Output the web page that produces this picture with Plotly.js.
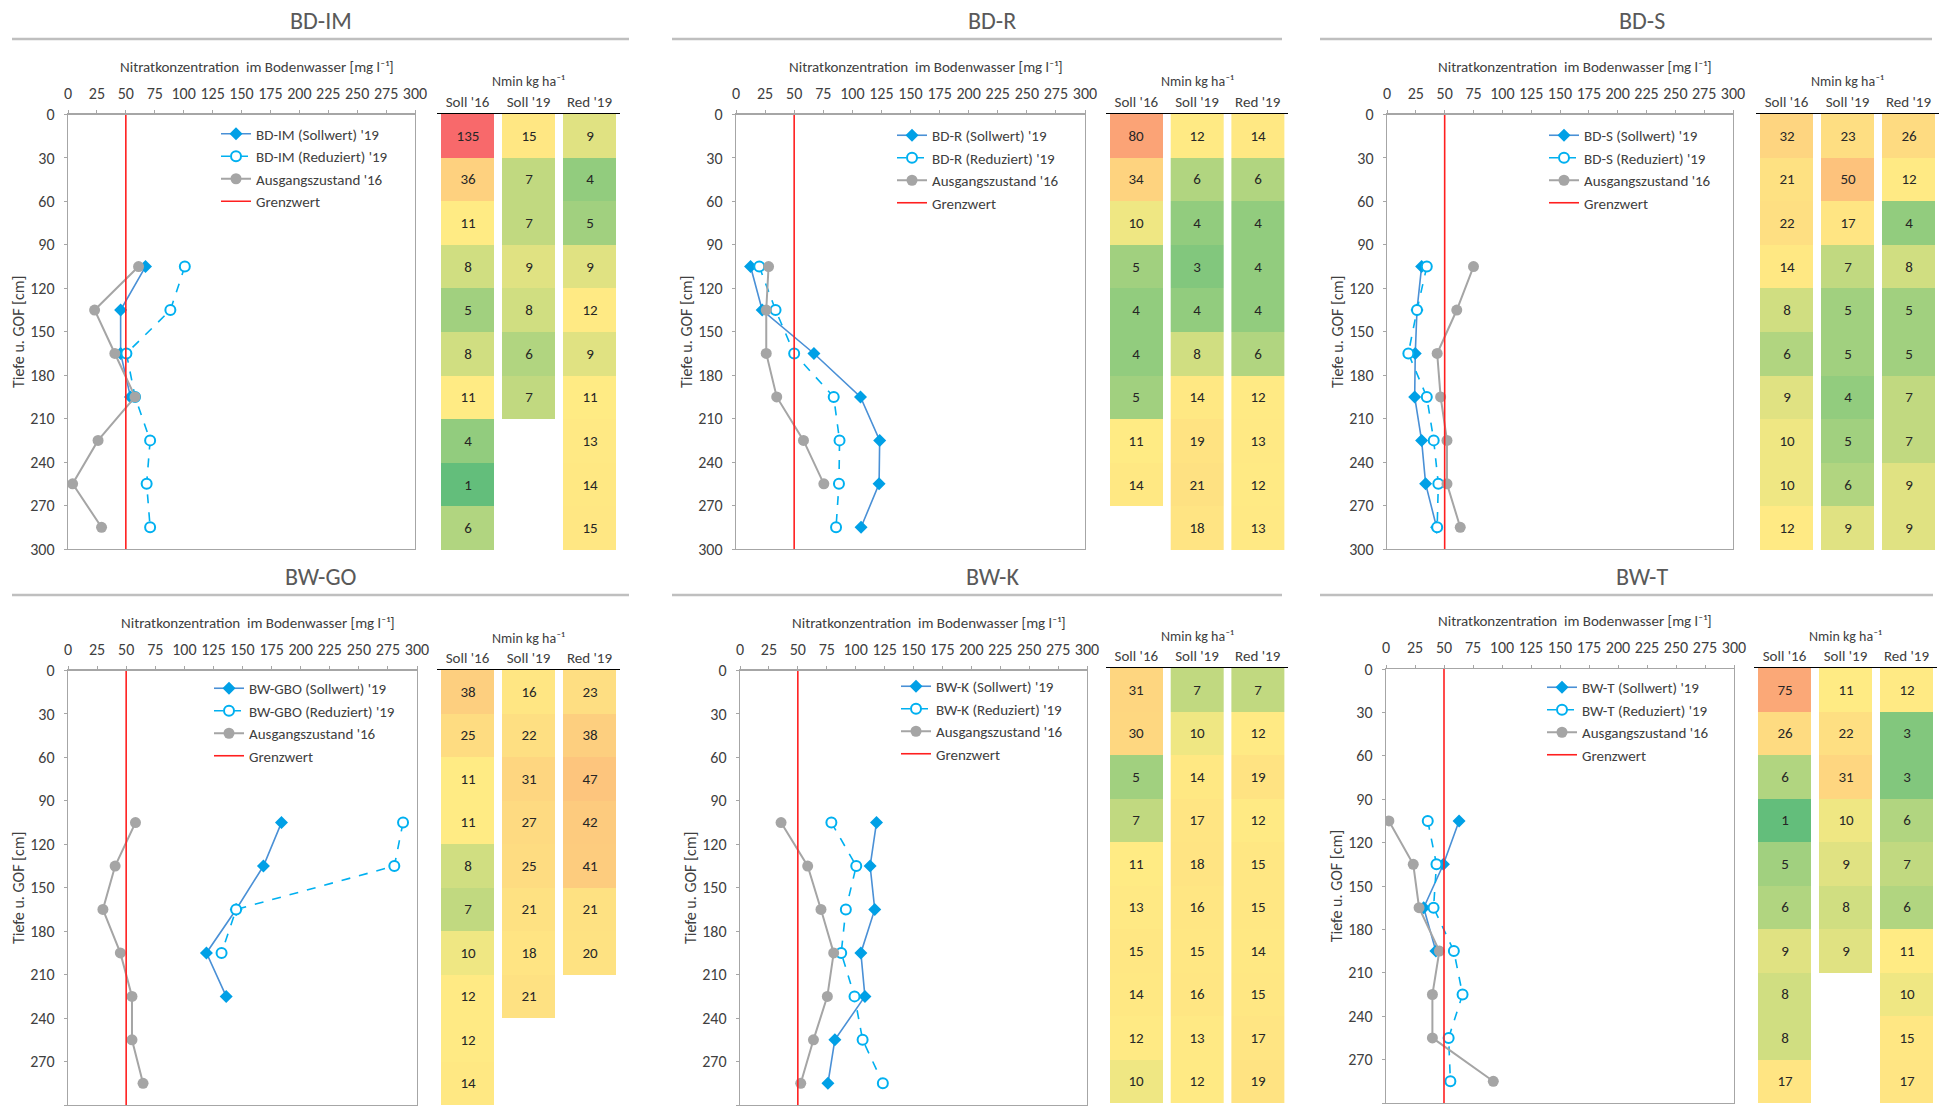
<!DOCTYPE html>
<html><head><meta charset="utf-8">
<script src="https://cdn.plot.ly/plotly-3.0.1.min.js"></script>
<style>html,body{margin:0;padding:0;background:#fff}#chart{width:1952px;height:1112px}</style>
</head><body><div id="chart"></div>
<script>
// ---------- DATA ----------
const depth = [105, 135, 165, 195, 225, 255, 285];          // cm, nitrate sampling depths
const layerMid = [15, 45, 75, 105, 135, 165, 195, 225, 255, 285]; // Nmin layer centres (0-30 ... 270-300)
const nminCols = ["Soll '16", "Soll '19", "Red '19"];
const limitX = [50, 50];
const limitY = [0, 300];

const panelTitles = ['BD-IM', 'BD-R', 'BD-S', 'BW-GO', 'BW-K', 'BW-T'];
const seriesPrefix = ['BD-IM', 'BD-R', 'BD-S', 'BW-GBO', 'BW-K', 'BW-T'];
const nitrateTitle = 'Nitratkonzentration  im Bodenwasser [mg l\u207B\u00B9]';
const nminTitle = 'Nmin kg ha\u207B\u00B9';
const depthTitle = 'Tiefe u. GOF [cm]';

// Nitrate concentration [mg/l]
const bdimSoll = [67, 45.5, 45.5, 54];
const bdimRed  = [101, 88.5, 50.5, 58, 71, 68, 71];
const bdimAus  = [61, 23, 40.5, 58, 26, 4, 29];

const bdrSoll = [12.5, 22.5, 67, 107, 123.5, 123, 107.5];
const bdrRed  = [20, 34, 50, 84, 89, 88.5, 86];
const bdrAus  = [28, 26, 26, 35, 58, 75.5];

const bdsSoll = [30, 26, 24.5, 24, 30, 33.5, 43];
const bdsRed  = [34.5, 26, 18.5, 34.5, 40.5, 44.5, 43.5];
const bdsAus  = [75, 60.5, 43.5, 46.5, 52, 52, 63.5];

const bwgoSoll = [183.5, 168, 144.5, 119, 136];
const bwgoRed  = [288, 280.5, 144.5, 132];
const bwgoAus  = [58, 40.5, 30, 45, 55, 55, 64.5];

const bwkSoll = [118, 112.5, 116.5, 104.5, 108, 82, 76];
const bwkRed  = [79, 100.5, 91.5, 87.5, 99, 106, 123.5];
const bwkAus  = [35.5, 58.5, 70, 81, 75.5, 63.5, 52.5];

const bwtSoll = [63, 49.5, 32.5, 43];
const bwtRed  = [36, 43.5, 41, 58.5, 66, 54, 55.5];
const bwtAus  = [2.5, 23.5, 28.5, 46, 40, 40, 92.5];

// Nmin kg/ha per 30 cm layer
const bdimN16 = [135, 36, 11, 8, 5, 8, 11, 4, 1, 6];
const bdimN19 = [15, 7, 7, 9, 8, 6, 7];
const bdimR19 = [9, 4, 5, 9, 12, 9, 11, 13, 14, 15];

const bdrN16 = [80, 34, 10, 5, 4, 4, 5, 11, 14];
const bdrN19 = [12, 6, 4, 3, 4, 8, 14, 19, 21, 18];
const bdrR19 = [14, 6, 4, 4, 4, 6, 12, 13, 12, 13];

const bdsN16 = [32, 21, 22, 14, 8, 6, 9, 10, 10, 12];
const bdsN19 = [23, 50, 17, 7, 5, 5, 4, 5, 6, 9];
const bdsR19 = [26, 12, 4, 8, 5, 5, 7, 7, 9, 9];

const bwgoN16 = [38, 25, 11, 11, 8, 7, 10, 12, 12, 14];
const bwgoN19 = [16, 22, 31, 27, 25, 21, 18, 21];
const bwgoR19 = [23, 38, 47, 42, 41, 21, 20];

const bwkN16 = [31, 30, 5, 7, 11, 13, 15, 14, 12, 10];
const bwkN19 = [7, 10, 14, 17, 18, 16, 15, 16, 13, 12];
const bwkR19 = [7, 12, 19, 12, 15, 15, 14, 15, 17, 19];

const bwtN16 = [75, 26, 6, 1, 5, 6, 9, 8, 8, 17];
const bwtN19 = [11, 22, 31, 10, 9, 8, 9];
const bwtR19 = [12, 3, 3, 6, 7, 6, 11, 10, 15, 17];

const nitrate = [
  [bdimSoll, bdimRed, bdimAus], [bdrSoll, bdrRed, bdrAus], [bdsSoll, bdsRed, bdsAus],
  [bwgoSoll, bwgoRed, bwgoAus], [bwkSoll, bwkRed, bwkAus], [bwtSoll, bwtRed, bwtAus]
];
const nmin = [
  [bdimN16, bdimN19, bdimR19], [bdrN16, bdrN19, bdrR19], [bdsN16, bdsN19, bdsR19],
  [bwgoN16, bwgoN19, bwgoR19], [bwkN16, bwkN19, bwkR19], [bwtN16, bwtN19, bwtR19]
];

// ---------- LAYOUT GEOMETRY (px) ----------
const W = 1952, H = 1112;
const geo = [
  {plot:[68,415,114.5,549],  table:[437,620,114,550],   title:[321,20],  rule:[12,629,39],    legend:[224,134.5]},
  {plot:[736,1085,114.5,549],table:[1106,1288,114,550], title:[992,20],  rule:[672,1282,39],  legend:[900,136]},
  {plot:[1387,1733,114.5,549],table:[1756,1939,114,550],title:[1642,20], rule:[1320,1932,39], legend:[1552,136]},
  {plot:[68,417,670.5,1105], table:[437,620,670,1105],  title:[321,576], rule:[12,629,595],   legend:[217,689]},
  {plot:[740,1087,670.5,1105],table:[1106,1288,668,1103],title:[992,576],rule:[672,1282,595],  legend:[904,687]},
  {plot:[1386,1734,669,1103],table:[1754,1937,668,1103],title:[1642,576],rule:[1320,1933,595], legend:[1550,688]}
];
const dX = (a, b) => [a / W, b / W];
const dY = (a, b) => [1 - b / H, 1 - a / H];

const FONT = 'Carlito, Calibri, Lato, "DejaVu Sans", sans-serif';
const TXT = '#404040';
const AX = '#A6A6A6';

const traces = [];
const layout = {
  width: W, height: H,
  margin: {l: 0, r: 0, t: 0, b: 0},
  paper_bgcolor: '#fff', plot_bgcolor: 'rgba(0,0,0,0)',
  font: {family: FONT, color: TXT, size: 14},
  showlegend: true,
  annotations: [], shapes: []
};

const colorscale = [[0, '#63BE7B'], [10 / 134, '#FFEB84'], [1, '#F8696B']];

for (let p = 0; p < 6; p++) {
  const g = geo[p];
  const ia = 2 * p + 1, ib = 2 * p + 2;
  const xa = 'x' + ia, ya = 'y' + ia, xb = 'x' + ib, yb = 'y' + ib;
  const lg = p === 0 ? 'legend' : 'legend' + (p + 1);
  const [soll, red, aus] = nitrate[p];

  traces.push({
    type: 'scatter', mode: 'lines+markers', xaxis: xa, yaxis: ya, legend: lg,
    name: seriesPrefix[p] + " (Sollwert) '19",
    x: soll, y: depth.slice(0, soll.length),
    line: {color: '#4A90D6', width: 1.6},
    marker: {symbol: 'diamond', size: 10, color: '#00A0E6'}
  });
  traces.push({
    type: 'scatter', mode: 'lines+markers', xaxis: xa, yaxis: ya, legend: lg,
    name: seriesPrefix[p] + " (Reduziert) '19",
    x: red, y: depth.slice(0, red.length),
    line: {color: '#00B0F0', width: 1.6, dash: 'dash'},
    marker: {symbol: 'circle', size: 10, color: '#fff', line: {color: '#00B0F0', width: 2}}
  });
  traces.push({
    type: 'scatter', mode: 'lines+markers', xaxis: xa, yaxis: ya, legend: lg,
    name: "Ausgangszustand '16",
    x: aus, y: depth.slice(0, aus.length),
    line: {color: '#A5A5A5', width: 2},
    marker: {symbol: 'circle', size: 11, color: '#A5A5A5'}
  });
  traces.push({
    type: 'scatter', mode: 'lines', xaxis: xa, yaxis: ya, legend: lg,
    name: 'Grenzwert', x: limitX, y: limitY,
    line: {color: '#FF1F1F', width: 1.6}
  });

  // Nmin table: one single-column heatmap per table column
  nmin[p].forEach((vals, c) => {
    traces.push({
      type: 'heatmap', xaxis: xb, yaxis: yb, showlegend: false, showscale: false,
      x0: c, dx: 1, y: layerMid.slice(0, vals.length), z: vals.map(v => [v]),
      texttemplate: '%{z}', textfont: {family: FONT, size: 15, color: '#262626'},
      zmin: 1, zmax: 135, colorscale: colorscale, xgap: 8, ygap: 0, hoverinfo: 'skip'
    });
  });

  layout['xaxis' + ia] = {
    domain: dX(g.plot[0], g.plot[1]), anchor: ya, side: 'top',
    range: [0, 300], tick0: 0, dtick: 25, showgrid: false, zeroline: false,
    showline: true, mirror: true, linecolor: AX, linewidth: 1.3,
    ticks: 'outside', ticklen: 3, tickcolor: AX, tickfont: {size: 16, color: TXT},
    ticklabelstandoff: 5
  };
  layout['yaxis' + ia] = {
    domain: dY(g.plot[2], g.plot[3]), anchor: xa,
    range: [300, 0], tick0: 0, dtick: 30, showgrid: false, zeroline: false,
    showline: true, mirror: true, linecolor: AX, linewidth: 1.3,
    ticks: 'outside', ticklen: 3, tickcolor: AX, tickfont: {size: 16, color: TXT},
    ticklabelstandoff: 6,
    title: {text: depthTitle, font: {size: 16, color: TXT}}
  };
  layout['xaxis' + ib] = {
    domain: dX(g.table[0], g.table[1]), anchor: yb, side: 'top',
    range: [-0.5, 2.5], tickvals: [0, 1, 2], ticktext: nminCols,
    showgrid: false, zeroline: false,
    showline: true, linecolor: '#000', linewidth: 1.2, ticks: '',
    tickfont: {size: 15, color: TXT}
  };
  layout['yaxis' + ib] = {
    domain: dY(g.table[2], g.table[3]), anchor: xb,
    range: [300, 0], visible: false, showgrid: false, zeroline: false
  };

  layout[lg] = {
    x: (g.legend[0] - 8) / W, y: 1 - (g.legend[1] - 17) / H, xanchor: 'left', yanchor: 'top',
    bgcolor: 'rgba(0,0,0,0)', borderwidth: 0, font: {size: 15, color: TXT},
    itemwidth: 30, tracegroupgap: 0
  };

  // panel title
  layout.annotations.push({
    xref: 'paper', yref: 'paper', x: g.title[0] / W, y: 1 - g.title[1] / H,
    xanchor: 'center', yanchor: 'middle', showarrow: false,
    text: panelTitles[p], font: {size: 24, color: '#595959'}
  });
  // nitrate axis title (top)
  layout.annotations.push({
    xref: 'paper', yref: 'paper', x: ((g.plot[0] + g.plot[1]) / 2 + 15) / W, y: 1 - (g.plot[2] - 48) / H,
    xanchor: 'center', yanchor: 'middle', showarrow: false,
    text: nitrateTitle, font: {size: 15, color: TXT}
  });
  // Nmin header title
  layout.annotations.push({
    xref: 'paper', yref: 'paper', x: ((g.table[0] + g.table[1]) / 2) / W, y: 1 - (g.table[2] - 32) / H,
    xanchor: 'center', yanchor: 'middle', showarrow: false,
    text: nminTitle, font: {size: 14, color: TXT}
  });
  layout.shapes.push({
    type: 'line', xref: 'paper', yref: 'paper',
    x0: g.rule[0] / W, x1: g.rule[1] / W, y0: 1 - g.rule[2] / H, y1: 1 - g.rule[2] / H,
    line: {color: '#BFBFBF', width: 2.5}
  });
}

Plotly.newPlot('chart', traces, layout, {displayModeBar: false, staticPlot: true});
</script></body></html>
